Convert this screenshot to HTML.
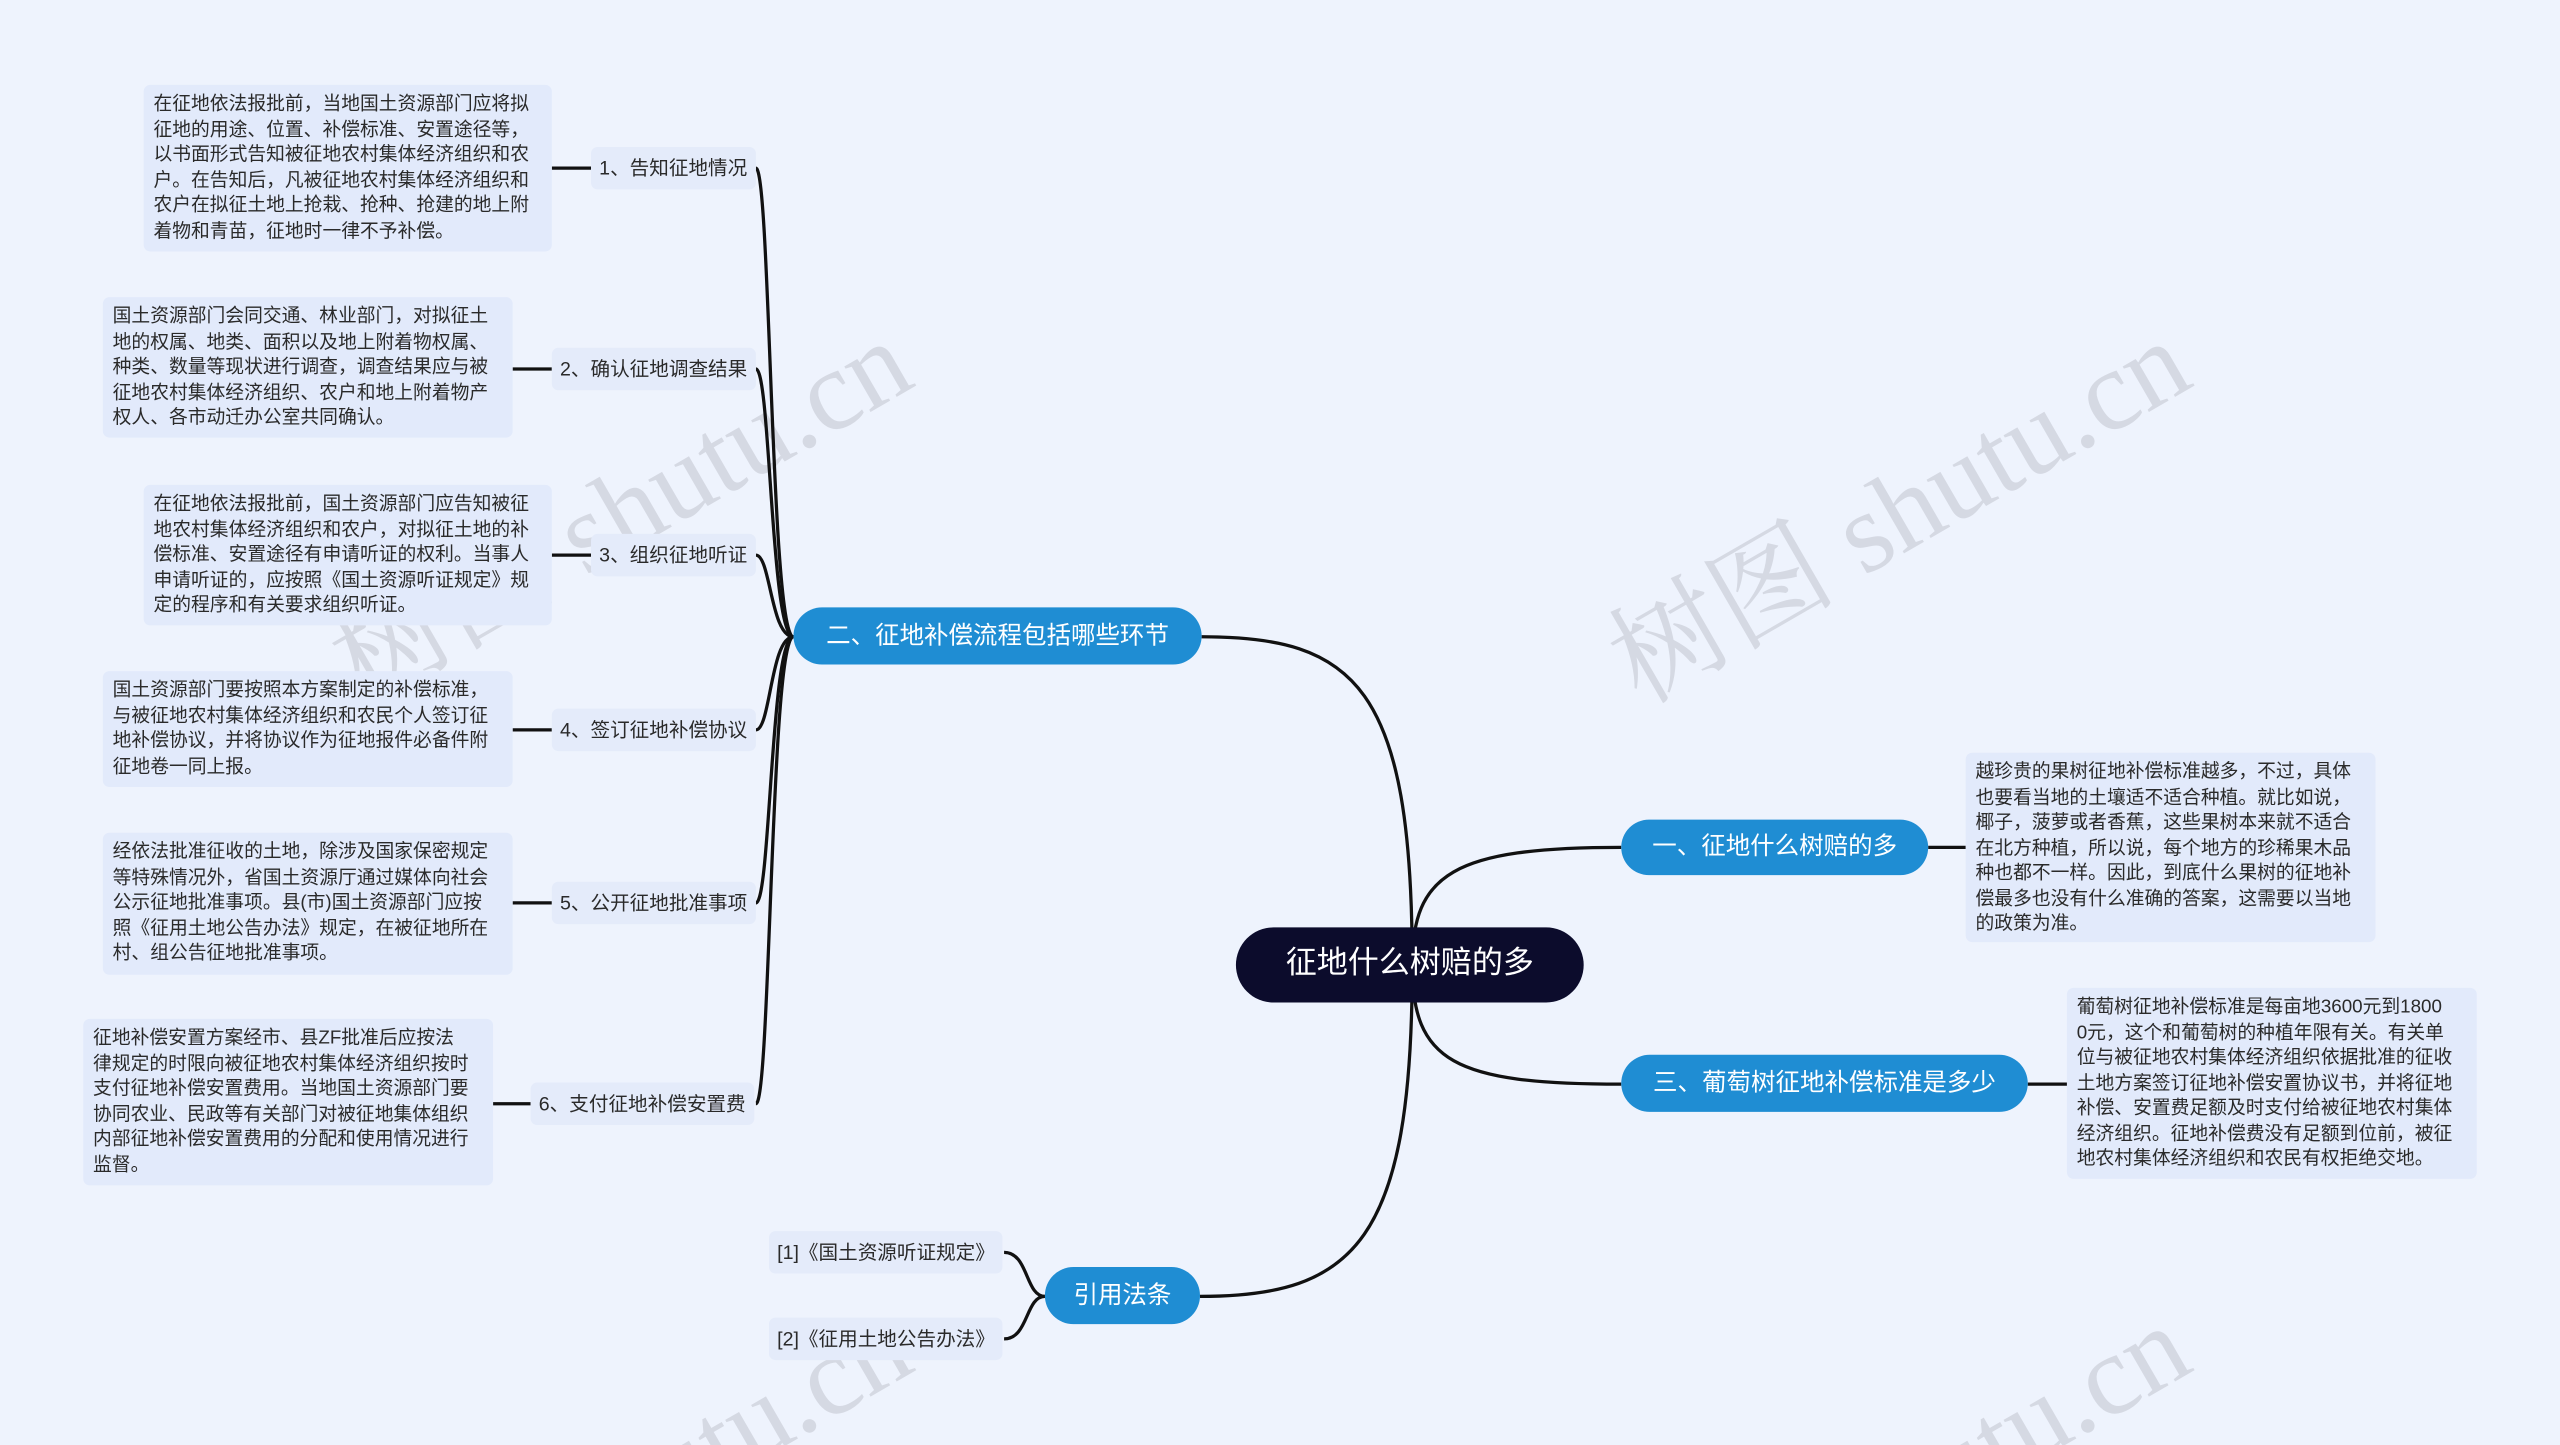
<!DOCTYPE html>
<html><head><meta charset="utf-8"><style>
html,body{margin:0;padding:0;width:2560px;height:1445px;overflow:hidden;background:#eef3fd}
#s{position:absolute;left:0;top:0;width:1568px;height:885px;overflow:hidden;transform:scale(1.63266,1.63277);transform-origin:0 0;font-family:"Liberation Sans","Noto Sans CJK SC",sans-serif}
.b{position:absolute;box-sizing:border-box}
svg{overflow:hidden}
.leaf{background:#e2eafb;border-radius:4px;font-size:11.5px;line-height:15.5px;color:#2a2a2a;padding:5px 6px;white-space:nowrap}
.sub{background:#e4ebfa;border-radius:4px;font-size:12px;color:#2a2a2a;height:26px;line-height:26px;padding:0 5px;white-space:nowrap}
.br{background:#1f8dd3;border-radius:18px;color:#fff;font-size:15px;text-align:center;white-space:nowrap}
</style></head><body><div id="s">
<svg class="b" style="left:0;top:0" width="1568" height="885" fill="none" stroke="#111" stroke-width="2">
<g fill="rgba(150,150,160,0.28)" stroke="none" font-size="70" font-family="Liberation Serif, Noto Serif CJK SC, serif">
<text transform="translate(222,432) rotate(-30)">树图 shutu.cn</text>
<text transform="translate(1005,432) rotate(-30)">树图 shutu.cn</text>
<text transform="translate(222,1035) rotate(-30)">树图 shutu.cn</text>
<text transform="translate(1005,1035) rotate(-30)">树图 shutu.cn</text>
</g>
<path d="M865 591 C865 420 830 390 736 390"/>
<path d="M865 591 C865 535 890 519 993 519"/>
<path d="M865 591 C865 650 890 664 993 664"/>
<path d="M865 591 C865 760 830 794 735 794"/>
<path d="M1181 519 H1204"/><path d="M1242 664 H1266"/>
<path d="M486 390 C472 390 472 103 463 103"/>
<path d="M486 390 C472 390 472 226 463 226"/>
<path d="M486 390 C472 390 472 340 463 340"/>
<path d="M486 390 C472 390 472 447 463 447"/>
<path d="M486 390 C472 390 472 553 463 553"/>
<path d="M486 390 C472 390 472 676 463 676"/>
<path d="M338 103 H362"/><path d="M314 226 H338"/><path d="M338 340 H362"/><path d="M314 447 H338"/><path d="M314 553 H338"/><path d="M302 676 H325"/>
<path d="M640 794 C628 794 630 767 615 767"/><path d="M640 794 C628 794 630 820 615 820"/>
</svg>

<div class="b" style="left:757px;top:568px;width:213px;height:46px;background:#0c0c2c;border-radius:23px;color:#fff;font-size:19px;line-height:46px;text-align:center">征地什么树赔的多</div>
<div class="b br" style="left:486px;top:372px;width:250px;height:35px;line-height:35px">二、征地补偿流程包括哪些环节</div>
<div class="b br" style="left:993px;top:502px;width:188px;height:34px;line-height:34px">一、征地什么树赔的多</div>
<div class="b br" style="left:993px;top:646px;width:249px;height:35px;line-height:35px">三、葡萄树征地补偿标准是多少</div>
<div class="b br" style="left:640px;top:776px;width:95px;height:35px;line-height:35px">引用法条</div>

<div class="b sub" style="left:362px;top:90px">1、告知征地情况</div>
<div class="b sub" style="left:338px;top:213px">2、确认征地调查结果</div>
<div class="b sub" style="left:362px;top:327px">3、组织征地听证</div>
<div class="b sub" style="left:338px;top:434px">4、签订征地补偿协议</div>
<div class="b sub" style="left:338px;top:540px">5、公开征地批准事项</div>
<div class="b sub" style="left:325px;top:663px">6、支付征地补偿安置费</div>
<div class="b sub" style="left:471px;top:754px">[1]《国土资源听证规定》</div>
<div class="b sub" style="left:471px;top:807px">[2]《征用土地公告办法》</div>

<div class="b leaf" style="left:88px;top:52px;width:250px;height:102px">在征地依法报批前，当地国土资源部门应将拟<br>征地的用途、位置、补偿标准、安置途径等，<br>以书面形式告知被征地农村集体经济组织和农<br>户。在告知后，凡被征地农村集体经济组织和<br>农户在拟征土地上抢栽、抢种、抢建的地上附<br>着物和青苗，征地时一律不予补偿。</div>
<div class="b leaf" style="left:63px;top:182px;width:251px;height:86px">国土资源部门会同交通、林业部门，对拟征土<br>地的权属、地类、面积以及地上附着物权属、<br>种类、数量等现状进行调查，调查结果应与被<br>征地农村集体经济组织、农户和地上附着物产<br>权人、各市动迁办公室共同确认。</div>
<div class="b leaf" style="left:88px;top:297px;width:250px;height:86px">在征地依法报批前，国土资源部门应告知被征<br>地农村集体经济组织和农户，对拟征土地的补<br>偿标准、安置途径有申请听证的权利。当事人<br>申请听证的，应按照《国土资源听证规定》规<br>定的程序和有关要求组织听证。</div>
<div class="b leaf" style="left:63px;top:411px;width:251px;height:71px">国土资源部门要按照本方案制定的补偿标准，<br>与被征地农村集体经济组织和农民个人签订征<br>地补偿协议，并将协议作为征地报件必备件附<br>征地卷一同上报。</div>
<div class="b leaf" style="left:63px;top:510px;width:251px;height:87px">经依法批准征收的土地，除涉及国家保密规定<br>等特殊情况外，省国土资源厅通过媒体向社会<br>公示征地批准事项。县(市)国土资源部门应按<br>照《征用土地公告办法》规定，在被征地所在<br>村、组公告征地批准事项。</div>
<div class="b leaf" style="left:51px;top:624px;width:251px;height:102px">征地补偿安置方案经市、县ZF批准后应按法<br>律规定的时限向被征地农村集体经济组织按时<br>支付征地补偿安置费用。当地国土资源部门要<br>协同农业、民政等有关部门对被征地集体组织<br>内部征地补偿安置费用的分配和使用情况进行<br>监督。</div>
<div class="b leaf" style="left:1204px;top:461px;width:251px;height:116px">越珍贵的果树征地补偿标准越多，不过，具体<br>也要看当地的土壤适不适合种植。就比如说，<br>椰子，菠萝或者香蕉，这些果树本来就不适合<br>在北方种植，所以说，每个地方的珍稀果木品<br>种也都不一样。因此，到底什么果树的征地补<br>偿最多也没有什么准确的答案，这需要以当地<br>的政策为准。</div>
<div class="b leaf" style="left:1266px;top:605px;width:251px;height:117px">葡萄树征地补偿标准是每亩地3600元到1800<br>0元，这个和葡萄树的种植年限有关。有关单<br>位与被征地农村集体经济组织依据批准的征收<br>土地方案签订征地补偿安置协议书，并将征地<br>补偿、安置费足额及时支付给被征地农村集体<br>经济组织。征地补偿费没有足额到位前，被征<br>地农村集体经济组织和农民有权拒绝交地。</div>
</div></body></html>
